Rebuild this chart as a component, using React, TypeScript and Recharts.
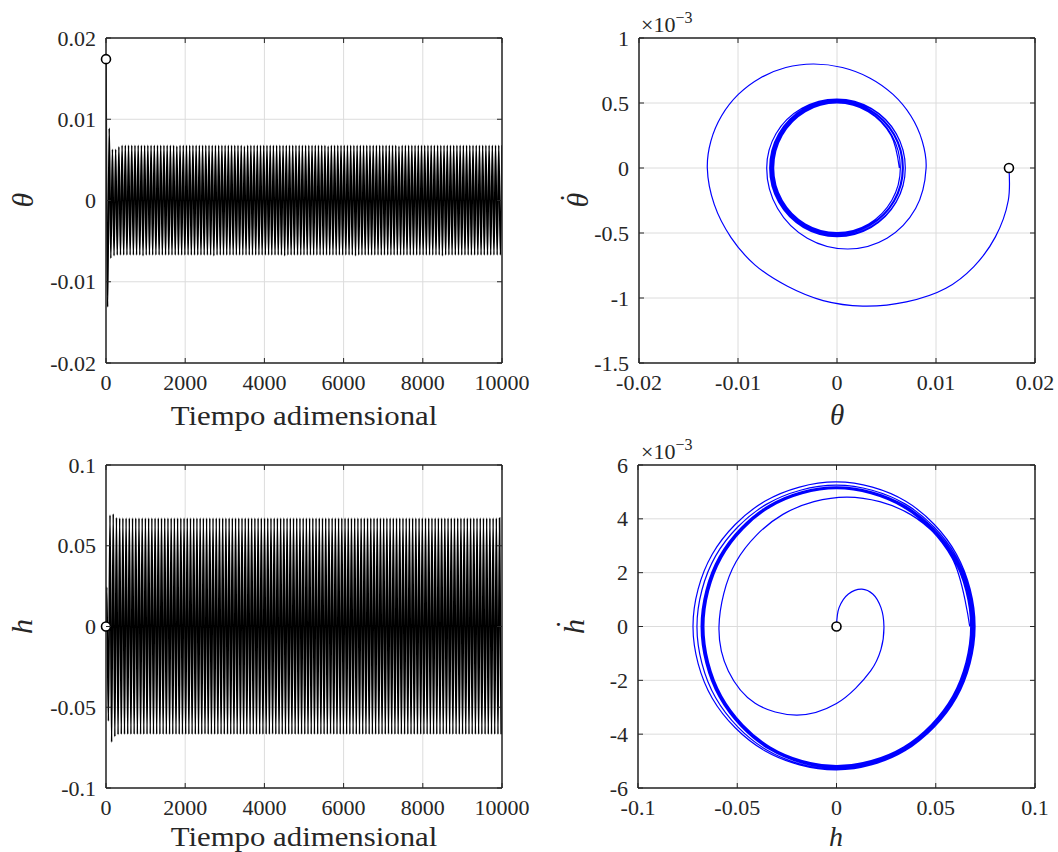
import React from 'react';
import { LineChart, Line, XAxis, YAxis, CartesianGrid, ReferenceLine, ReferenceDot } from 'recharts';

const FONT = '"Liberation Serif", "Times New Roman", serif';
const INK = '#262626';
const GRID = '#dcdcdc';

// axis ticks
const timeTicks = [0, 2000, 4000, 6000, 8000, 10000];
const thetaTicks = [-0.02, -0.01, 0, 0.01, 0.02];
const thetaDotTicks = [-1.5, -1, -0.5, 0, 0.5, 1];
const hTicks = [-0.1, -0.05, 0, 0.05, 0.1];
const hDotTicks = [-6, -4, -2, 0, 2, 4, 6];

// time series: successive peaks, one every half period
const HALF_PERIOD = 40.65;
const H_FIRST_PEAK = 20;

const thetaPeaks = [
  0.0174, -0.0131, 0.0089, -0.0071, 0.0063, -0.0068, 0.0063, -0.0067, 0.0066, -0.0067,
  0.0068, -0.0067, 0.0068, -0.0067, 0.0068, -0.0067, 0.0068, -0.0067, 0.0068, -0.0067,
  0.0068, -0.0067, 0.0068, -0.0068, 0.0068, -0.0067, 0.0068, -0.0067, 0.0068, -0.0067,
  0.0068, -0.0067, 0.0068, -0.0067, 0.0068, -0.0067, 0.0068, -0.0067, 0.0068, -0.0067,
  0.0068, -0.0067, 0.0068, -0.0067, 0.0067, -0.0067, 0.0068, -0.0067, 0.0068, -0.0067,
  0.0068, -0.0067, 0.0068, -0.0067, 0.0068, -0.0067, 0.0068, -0.0067, 0.0068, -0.0067,
  0.0068, -0.0067, 0.0068, -0.0067, 0.0068, -0.0067, 0.0068, -0.0068, 0.0068, -0.0067,
  0.0068, -0.0067, 0.0068, -0.0067, 0.0068, -0.0067, 0.0068, -0.0067, 0.0068, -0.0067,
  0.0068, -0.0067, 0.0068, -0.0067, 0.0068, -0.0067, 0.0067, -0.0067, 0.0068, -0.0067,
  0.0068, -0.0067, 0.0068, -0.0067, 0.0068, -0.0067, 0.0068, -0.0067, 0.0068, -0.0067,
  0.0068, -0.0067, 0.0068, -0.0067, 0.0068, -0.0067, 0.0068, -0.0067, 0.0068, -0.0067,
  0.0068, -0.0068, 0.0068, -0.0067, 0.0068, -0.0067, 0.0068, -0.0067, 0.0068, -0.0067,
  0.0068, -0.0067, 0.0068, -0.0067, 0.0068, -0.0067, 0.0068, -0.0067, 0.0068, -0.0067,
  0.0068, -0.0067, 0.0068, -0.0067, 0.0068, -0.0067, 0.0068, -0.0067, 0.0067, -0.0067,
  0.0068, -0.0067, 0.0068, -0.0067, 0.0068, -0.0067, 0.0068, -0.0067, 0.0068, -0.0067,
  0.0068, -0.0067, 0.0068, -0.0067, 0.0068, -0.0068, 0.0068, -0.0067, 0.0068, -0.0067,
  0.0068, -0.0067, 0.0068, -0.0067, 0.0068, -0.0067, 0.0068, -0.0067, 0.0068, -0.0067,
  0.0068, -0.0067, 0.0068, -0.0067, 0.0068, -0.0067, 0.0068, -0.0067, 0.0068, -0.0067,
  0.0068, -0.0067, 0.0067, -0.0067, 0.0068, -0.0067, 0.0068, -0.0067, 0.0068, -0.0067,
  0.0068, -0.0067, 0.0068, -0.0067, 0.0068, -0.0067, 0.0068, -0.0067, 0.0068, -0.0067,
  0.0068, -0.0067, 0.0068, -0.0067, 0.0068, -0.0067, 0.0068, -0.0067, 0.0068, -0.0068,
  0.0068, -0.0067, 0.0068, -0.0067, 0.0068, -0.0067, 0.0068, -0.0067, 0.0068, -0.0067,
  0.0068, -0.0067, 0.0068, -0.0067, 0.0068, -0.0067, 0.0068, -0.0067, 0.0068, -0.0067,
  0.0068, -0.0067, 0.0068, -0.0067, 0.0068, -0.0067, 0.0068, -0.0067, 0.0068, -0.0067,
  0.0068, -0.0067, 0.0068, -0.0067, 0.0068, -0.0067, 0.0068,
];

const hPeaks = [
  0.0245, -0.0585, 0.069, -0.0716, 0.0697, -0.0682, 0.0674, -0.0669, 0.0672, -0.0667,
  0.0672, -0.0667, 0.0672, -0.0667, 0.0672, -0.0667, 0.0672, -0.0667, 0.0672, -0.0667,
  0.0672, -0.0667, 0.0671, -0.0667, 0.0672, -0.0667, 0.0672, -0.0666, 0.0672, -0.0667,
  0.0672, -0.0667, 0.0672, -0.0667, 0.0672, -0.0667, 0.0672, -0.0667, 0.0672, -0.0667,
  0.0672, -0.0667, 0.0672, -0.0667, 0.0672, -0.0667, 0.0671, -0.0667, 0.0672, -0.0667,
  0.0672, -0.0667, 0.0672, -0.0667, 0.0672, -0.0667, 0.0672, -0.0667, 0.0672, -0.0667,
  0.0672, -0.0666, 0.0672, -0.0667, 0.0672, -0.0667, 0.0672, -0.0667, 0.0672, -0.0667,
  0.0672, -0.0667, 0.0672, -0.0667, 0.0672, -0.0667, 0.0672, -0.0667, 0.0671, -0.0667,
  0.0672, -0.0667, 0.0672, -0.0667, 0.0672, -0.0667, 0.0672, -0.0667, 0.0672, -0.0667,
  0.0672, -0.0667, 0.0672, -0.0667, 0.0672, -0.0667, 0.0672, -0.0667, 0.0672, -0.0667,
  0.0672, -0.0667, 0.0672, -0.0666, 0.0672, -0.0667, 0.0672, -0.0667, 0.0672, -0.0667,
  0.0672, -0.0667, 0.0672, -0.0667, 0.0671, -0.0667, 0.0672, -0.0667, 0.0672, -0.0667,
  0.0672, -0.0667, 0.0672, -0.0667, 0.0672, -0.0667, 0.0672, -0.0667, 0.0672, -0.0667,
  0.0672, -0.0667, 0.0672, -0.0667, 0.0672, -0.0667, 0.0672, -0.0667, 0.0672, -0.0666,
  0.0672, -0.0667, 0.0672, -0.0667, 0.0672, -0.0667, 0.0672, -0.0667, 0.0672, -0.0667,
  0.0672, -0.0667, 0.0671, -0.0667, 0.0672, -0.0667, 0.0672, -0.0667, 0.0672, -0.0667,
  0.0672, -0.0667, 0.0672, -0.0667, 0.0672, -0.0667, 0.0672, -0.0667, 0.0672, -0.0667,
  0.0672, -0.0667, 0.0672, -0.0667, 0.0672, -0.0666, 0.0672, -0.0667, 0.0672, -0.0667,
  0.0672, -0.0667, 0.0672, -0.0667, 0.0672, -0.0667, 0.0672, -0.0667, 0.0671, -0.0667,
  0.0672, -0.0667, 0.0672, -0.0667, 0.0672, -0.0667, 0.0672, -0.0667, 0.0672, -0.0667,
  0.0672, -0.0667, 0.0672, -0.0667, 0.0672, -0.0667, 0.0672, -0.0667, 0.0672, -0.0667,
  0.0672, -0.0666, 0.0672, -0.0667, 0.0672, -0.0667, 0.0672, -0.0667, 0.0672, -0.0667,
  0.0672, -0.0667, 0.0672, -0.0667, 0.0672, -0.0667, 0.0672, -0.0667, 0.0672, -0.0667,
  0.0672, -0.0667, 0.0672, -0.0667, 0.0672, -0.0667, 0.0672, -0.0667, 0.0672, -0.0667,
  0.0672, -0.0667, 0.0672, -0.0667, 0.0672, -0.0667,
];

// phase portraits (rates in units of 1e-3)
const thetaOrbit = [
  0.01737, 0.0173, 0.016, 0.0138, 0.011, 0.007, 0.0026,
  -0.0014, -0.005, -0.0083, -0.0107, -0.0124, -0.0131,
  -0.01274, -0.01167, -0.00997, -0.00775, -0.00517, -0.0024,
  0.00055, 0.0033, 0.00566, 0.00747, 0.00861, 0.009,
  0.00794, 0.00505, 0.0011, -0.003, -0.006, -0.0071,
  -0.00615, -0.00355, 0.0, 0.00345, 0.00598, 0.0069,
  0.005975, 0.00345, 0.0, -0.0034, -0.00589, -0.0068, -0.00589, -0.0034, 0.0, 0.00345, 0.005975, 0.0069,
  0.005975, 0.00345, 0.0, -0.00335, -0.0058, -0.0067, -0.0058, -0.00335, 0.0, 0.00335, 0.0058, 0.0067,
  0.0058, 0.00335, 0.0, -0.0033, -0.00572, -0.0066, -0.00572, -0.0033, 0.0, 0.0033, 0.00572, 0.0066,
  0.00572, 0.0033, 0.0, -0.00325, -0.00563, -0.0065, -0.00563, -0.00325, 0.0, 0.0032, 0.00554, 0.0064,
  0.00554, 0.0032, 0.0, -0.0032, -0.00554, -0.0064, -0.00554, -0.0032, 0.0, 0.00315, 0.00546, 0.0063,
];
const thetaDotOrbit = [
  0, -0.25, -0.53, -0.76, -0.925, -1.03, -1.062,
  -1.02, -0.91, -0.745, -0.535, -0.28, 0,
  0.207, 0.4, 0.566, 0.693, 0.773, 0.8,
  0.773, 0.693, 0.566, 0.4, 0.207, 0,
  -0.3115, -0.54, -0.623, -0.54, -0.3115, 0,
  0.265, 0.459, 0.53, 0.459, 0.265, 0,
  -0.264, -0.4572, -0.528, -0.4572, -0.264, 0, 0.263, 0.4555, 0.526, 0.4555, 0.263, 0,
  -0.2595, -0.4495, -0.519, -0.4495, -0.2595, 0, 0.259, 0.4486, 0.518, 0.4486, 0.259, 0,
  -0.2555, -0.4425, -0.511, -0.4425, -0.2555, 0, 0.2555, 0.4425, 0.511, 0.4425, 0.2555, 0,
  -0.2515, -0.4356, -0.503, -0.4356, -0.2515, 0, 0.2525, 0.4373, 0.505, 0.4373, 0.2525, 0,
  -0.2485, -0.4304, -0.497, -0.4304, -0.2485, 0, 0.25, 0.433, 0.5, 0.433, 0.25, 0,
];

const hOrbit = [
  0, 0.0013, 0.006, 0.0128, 0.0184, 0.0224, 0.0239,
  0.0224, 0.0172, 0.0, -0.0199, -0.041, -0.0545, -0.0592,
  -0.0506, -0.027, 0.0053, 0.0372, 0.0604, 0.069,
  0.0597, 0.0345, 0.0, -0.03615, -0.0626, -0.0723, -0.0626, -0.03615, 0.0, 0.0349, 0.06045, 0.0698,
  0.06045, 0.0349, 0.0, -0.03515, -0.06088, -0.0703, -0.06088, -0.03515, 0.0, 0.0347, 0.0601, 0.0694,
  0.0601, 0.0347, 0.0, -0.0341, -0.05906, -0.0682, -0.05906, -0.0341, 0.0, 0.0344, 0.05958, 0.0688,
  0.05958, 0.0344, 0.0, -0.0338, -0.05854, -0.0676, -0.05854, -0.0338, 0.0, 0.0341, 0.05906, 0.0682,
  0.05906, 0.0341, 0.0, -0.03355, -0.05811, -0.0671, -0.05811, -0.03355, 0.0, 0.0338, 0.05854, 0.0676,
  0.05854, 0.0338, 0.0, -0.0334, -0.05785, -0.0668, -0.05785, -0.0334, 0.0, 0.03355, 0.05811, 0.0671,
];
const hDotOrbit = [
  0, 0.7, 1.21, 1.39, 1.2, 0.7, 0,
  -0.85, -1.65, -2.86, -3.29, -2.85, -1.65, 0,
  2.405, 4.166, 4.81, 4.166, 2.405, 0,
  -2.665, -4.616, -5.33, -4.616, -2.665, 0, 2.685, 4.651, 5.37, 4.651, 2.685, 0,
  -2.65, -4.59, -5.3, -4.59, -2.65, 0, 2.625, 4.547, 5.25, 4.547, 2.625, 0,
  -2.63, -4.555, -5.26, -4.555, -2.63, 0, 2.595, 4.495, 5.19, 4.495, 2.595, 0,
  -2.61, -4.521, -5.22, -4.521, -2.61, 0, 2.58, 4.469, 5.16, 4.469, 2.58, 0,
  -2.595, -4.495, -5.19, -4.495, -2.595, 0, 2.57, 4.451, 5.14, 4.451, 2.57, 0,
  -2.585, -4.477, -5.17, -4.477, -2.585, 0, 2.56, 4.434, 5.12, 4.434, 2.56, 0,
];

const thetaSeries = thetaPeaks.map((v, i) => ({ t: i * HALF_PERIOD, v }));
const hSeries = [{ t: 0, v: 0 }, ...hPeaks.map((v, i) => ({ t: H_FIRST_PEAK + i * HALF_PERIOD, v }))];
const thetaPhase = thetaOrbit.map((x, i) => ({ x, y: thetaDotOrbit[i] }));
const hPhase = hOrbit.map((x, i) => ({ x, y: hDotOrbit[i] }));

// centripetal Catmull-Rom, passed to Line as a d3-style curve factory
const smoothOrbit = (context: any) => {
  let pts: number[][] = [];
  return {
    areaStart() {},
    areaEnd() {},
    lineStart() {
      pts = [];
    },
    point(x: number, y: number) {
      pts.push([+x, +y]);
    },
    lineEnd() {
      const n = pts.length;
      if (!n) return;
      context.moveTo(pts[0][0], pts[0][1]);
      for (let i = 0; i < n - 1; i++) {
        const p0 = pts[Math.max(i - 1, 0)];
        const p1 = pts[i];
        const p2 = pts[i + 1];
        const p3 = pts[Math.min(i + 2, n - 1)];
        const d01 = Math.sqrt(Math.hypot(p1[0] - p0[0], p1[1] - p0[1]));
        const d12 = Math.sqrt(Math.hypot(p2[0] - p1[0], p2[1] - p1[1]));
        const d23 = Math.sqrt(Math.hypot(p3[0] - p2[0], p3[1] - p2[1]));
        let c1 = p1;
        let c2 = p2;
        if (d01 > 1e-6) {
          const a = 2 * d01 * d01 + 3 * d01 * d12 + d12 * d12;
          const m = 3 * d01 * (d01 + d12);
          c1 = [
            (p1[0] * a - p0[0] * d12 * d12 + p2[0] * d01 * d01) / m,
            (p1[1] * a - p0[1] * d12 * d12 + p2[1] * d01 * d01) / m,
          ];
        }
        if (d23 > 1e-6) {
          const b = 2 * d23 * d23 + 3 * d23 * d12 + d12 * d12;
          const m = 3 * d23 * (d23 + d12);
          c2 = [
            (p2[0] * b + p1[0] * d23 * d23 - p3[0] * d12 * d12) / m,
            (p2[1] * b + p1[1] * d23 * d23 - p3[1] * d12 * d12) / m,
          ];
        }
        context.bezierCurveTo(c1[0], c1[1], c2[0], c2[1], p2[0], p2[1]);
      }
    },
  };
};

const makeXTick = (plotH: number) => (props: any) => {
  const { x, y, payload } = props;
  return (
    <g>
      <line x1={x} x2={x} y1={y} y2={y - 5} stroke={INK} strokeWidth={1} />
      <line x1={x} x2={x} y1={y - plotH} y2={y - plotH + 5} stroke={INK} strokeWidth={1} />
      <text x={x} y={y + 27} textAnchor="middle" fontFamily={FONT} fontSize={22} fill={INK}>
        {String(payload.value)}
      </text>
    </g>
  );
};

const makeYTick = (plotW: number) => (props: any) => {
  const { x, y, payload } = props;
  return (
    <g>
      <line x1={x} x2={x + 5} y1={y} y2={y} stroke={INK} strokeWidth={1} />
      <line x1={x + plotW} x2={x + plotW - 5} y1={y} y2={y} stroke={INK} strokeWidth={1} />
      <text x={x - 10} y={y + 7.5} textAnchor="end" fontFamily={FONT} fontSize={22} fill={INK}>
        {String(payload.value)}
      </text>
    </g>
  );
};

interface PanelProps {
  left: number;
  top: number;
  width: number;
  height: number;
  plotLeft: number;
  plotTop: number;
  plotW: number;
  plotH: number;
  data: { [k: string]: number }[];
  xKey: string;
  yKey: string;
  xDomain: [number, number];
  yDomain: [number, number];
  xTicks: number[];
  yTicks: number[];
  stroke: string;
  strokeWidth: number;
  curve: any;
  children?: React.ReactNode;
}

const Panel: React.FC<PanelProps> = (p) => {
  const xAxisH = 40;
  const start = p.data[0];
  return (
    <div style={{ position: 'absolute', left: p.left, top: p.top }}>
      <LineChart
        width={p.width}
        height={p.height}
        data={p.data}
        margin={{
          top: p.plotTop,
          left: 0,
          right: p.width - p.plotLeft - p.plotW,
          bottom: p.height - p.plotTop - p.plotH - xAxisH,
        }}
      >
        <CartesianGrid stroke={GRID} strokeWidth={1} />
        <XAxis
          type="number"
          dataKey={p.xKey}
          domain={p.xDomain}
          ticks={p.xTicks}
          interval={0}
          allowDataOverflow
          height={xAxisH}
          axisLine={false}
          tickLine={false}
          tickSize={0}
          tickMargin={0}
          tick={makeXTick(p.plotH)}
        />
        <YAxis
          type="number"
          domain={p.yDomain}
          ticks={p.yTicks}
          interval={0}
          allowDataOverflow
          width={p.plotLeft}
          axisLine={false}
          tickLine={false}
          tickSize={0}
          tickMargin={0}
          tick={makeYTick(p.plotW)}
        />
        <Line
          type={p.curve}
          dataKey={p.yKey}
          stroke={p.stroke}
          strokeWidth={p.strokeWidth}
          dot={false}
          activeDot={false}
          isAnimationActive={false}
        />
        <ReferenceLine x={p.xDomain[0]} stroke={INK} strokeWidth={1.5} ifOverflow="visible" />
        <ReferenceLine x={p.xDomain[1]} stroke={INK} strokeWidth={1.5} ifOverflow="visible" />
        <ReferenceLine y={p.yDomain[0]} stroke={INK} strokeWidth={1.5} ifOverflow="visible" />
        <ReferenceLine y={p.yDomain[1]} stroke={INK} strokeWidth={1.5} ifOverflow="visible" />
        <ReferenceDot
          x={start[p.xKey]}
          y={start[p.yKey]}
          r={4.5}
          fill="#ffffff"
          stroke="#000000"
          strokeWidth={1.6}
          ifOverflow="visible"
        />
        {p.children}
      </LineChart>
    </div>
  );
};

const labelStyle = { fontFamily: FONT, fill: INK } as const;

const Exponent = ({ x, y }: { x: number; y: number }) => (
  <text x={x} y={y} fontSize={22} {...labelStyle}>
    ×10
    <tspan dy={-9} fontSize={16}>−3</tspan>
  </text>
);

const DotLabel = ({ x, y, glyph }: { x: number; y: number; glyph: string }) => (
  <g transform={`translate(${x},${y}) rotate(-90)`}>
    <text x={0} y={0} textAnchor="middle" fontSize={30} fontStyle="italic" {...labelStyle}>
      {glyph}
    </text>
    <text x={2} y={-7} textAnchor="middle" fontSize={30} {...labelStyle}>
      ˙
    </text>
  </g>
);

const TimeLabel = ({ x, y }: { x: number; y: number }) => (
  <text transform={`translate(${x},${y}) scale(1.1,1)`} textAnchor="middle" fontSize={28} {...labelStyle}>
    Tiempo adimensional
  </text>
);

export default function App() {
  return (
    <div
      style={{
        position: 'absolute',
        left: 0,
        top: 0,
        width: 1058,
        height: 852,
        background: '#ffffff',
        overflow: 'hidden',
      }}
    >
      <Panel
        left={0} top={0} width={560} height={440}
        plotLeft={106} plotTop={38} plotW={396} plotH={325}
        data={thetaSeries} xKey="t" yKey="v"
        xDomain={[0, 10000]} yDomain={[-0.02, 0.02]}
        xTicks={timeTicks} yTicks={thetaTicks}
        stroke="#000000" strokeWidth={1.6} curve="monotone"
      >
        <TimeLabel x={304} y={425} />
        <text transform="translate(33,200) rotate(-90)" textAnchor="middle" fontSize={30} fontStyle="italic" {...labelStyle}>
          θ
        </text>
      </Panel>

      <Panel
        left={529} top={0} width={529} height={440}
        plotLeft={110} plotTop={38} plotW={396} plotH={325}
        data={thetaPhase} xKey="x" yKey="y"
        xDomain={[-0.02, 0.02]} yDomain={[-1.5, 1]}
        xTicks={thetaTicks} yTicks={thetaDotTicks}
        stroke="#0000ff" strokeWidth={1.2} curve={smoothOrbit}
      >
        <Exponent x={112} y={32} />
        <text x={308} y={425} textAnchor="middle" fontSize={29} fontStyle="italic" {...labelStyle}>θ</text>
        <DotLabel x={59} y={200} glyph="θ" />
      </Panel>

      <Panel
        left={0} top={430} width={560} height={422}
        plotLeft={106} plotTop={35} plotW={396} plotH={323}
        data={hSeries} xKey="t" yKey="v"
        xDomain={[0, 10000]} yDomain={[-0.1, 0.1]}
        xTicks={timeTicks} yTicks={hTicks}
        stroke="#000000" strokeWidth={1.6} curve="monotone"
      >
        <TimeLabel x={304} y={416} />
        <text transform="translate(32,196.5) rotate(-90)" textAnchor="middle" fontSize={30} fontStyle="italic" {...labelStyle}>
          h
        </text>
      </Panel>

      <Panel
        left={529} top={430} width={529} height={422}
        plotLeft={109} plotTop={35} plotW={397} plotH={323}
        data={hPhase} xKey="x" yKey="y"
        xDomain={[-0.1, 0.1]} yDomain={[-6, 6]}
        xTicks={hTicks} yTicks={hDotTicks}
        stroke="#0000ff" strokeWidth={1.2} curve={smoothOrbit}
      >
        <Exponent x={112} y={29} />
        <text x={307} y={416} textAnchor="middle" fontSize={28} fontStyle="italic" {...labelStyle}>h</text>
        <DotLabel x={55} y={196.5} glyph="h" />
      </Panel>
    </div>
  );
}
